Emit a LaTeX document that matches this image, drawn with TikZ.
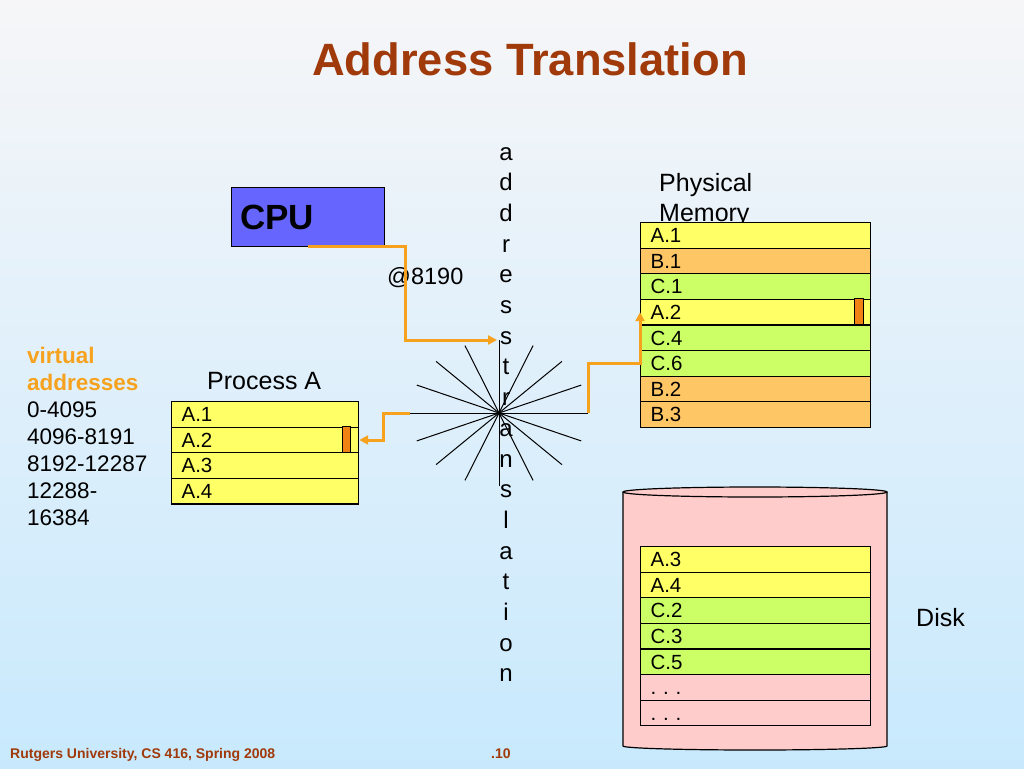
\documentclass[tikz,border=0pt]{standalone}
\usepackage{fontspec}
\setmainfont{Liberation Sans}
\usepackage{xcolor}
\usepackage{tikz}
\usetikzlibrary{arrows.meta}

\definecolor{titlebrown}{RGB}{160,58,10}
\definecolor{cpublue}{RGB}{102,102,255}
\definecolor{wireorange}{RGB}{247,162,30}
\definecolor{pageylw}{RGB}{255,255,102}
\definecolor{pagepeach}{RGB}{255,198,102}
\definecolor{pagegreen}{RGB}{204,255,102}
\definecolor{markorange}{RGB}{240,130,20}
\definecolor{diskpink}{RGB}{255,204,204}
\definecolor{bgtop}{RGB}{246,246,248}
\definecolor{bgbottom}{RGB}{200,233,253}

\begin{document}
\begin{tikzpicture}[x=1pt,y=-1pt]
    \tikzstyle{lbl} = [inner sep=0pt, anchor=base west, font=\fontsize{25}{29}\selectfont]
    \tikzstyle{small} = [lbl, font=\fontsize{22.5}{26}\selectfont]
    \tikzstyle{cell} = [rectangle, draw, line width=1.2pt, anchor=north west, minimum width=230pt, minimum height=25.6pt, text width=210pt, inner xsep=10pt, inner ysep=0pt, text height=14.6pt, text depth=0pt, align=left, font=\fontsize{20.5}{24}\selectfont]
    \tikzstyle{pcell} = [cell, minimum width=187pt, text width=167pt]
    \tikzstyle{wire} = [wireorange, line width=3pt, -{Triangle[length=9pt,width=9pt]}]
    \tikzstyle{marker} = [draw, line width=0.8pt, fill=markorange]
    \useasboundingbox (0,0) rectangle (1024,768);
    \shade[top color=bgtop, bottom color=bgbottom] (0,0) rectangle (1024,768);

    % title and footer
    \node [lbl, font=\fontsize{45.3}{50}\selectfont\bfseries, text=titlebrown] (title) at (312,75) {Address Translation};
    \node [lbl, font=\fontsize{14}{16}\selectfont\bfseries, text=titlebrown] (foot) at (10,758) {Rutgers University, CS 416, Spring 2008};
    \node [lbl, font=\fontsize{14}{16}\selectfont\bfseries, text=titlebrown] (pgno) at (491,758) {.10};

    % cpu
    \node [rectangle, draw, line width=1.2pt, fill=cpublue, anchor=north west, minimum width=153pt, minimum height=59pt] (cpu) at (231,187) {};
    \node [lbl, font=\fontsize{35}{40}\selectfont\bfseries] (cputxt) at (240,229) {CPU};
    \node [lbl, font=\fontsize{23.5}{27}\selectfont] (addr) at (387,284) {@8190};

    % the translation star
    \coordinate (star) at (499,413);
    \begin{scope}[shift={(499,413)}]
        \foreach \a in {0,22.5,...,157.5}
            \draw [line width=1pt] (\a:89 and 73) -- (\a+180:89 and 73);
    \end{scope}
    \coordinate (starW) at (410,413);
    \coordinate (starE) at (588,413);
    \foreach \ch [count=\i] in {a,d,d,r,e,s,s,t,r,a,n,s,l,a,t,i,o,n}
        \node [lbl, anchor=base, font=\fontsize{24}{28}\selectfont] (v\i) at (506,{160+30.7*(\i-1)}) {\ch};

    % virtual side
    \node [small, font=\fontsize{22.5}{26}\selectfont\bfseries, text=wireorange] (va1) at (27,363) {virtual};
    \node [small, font=\fontsize{22.5}{26}\selectfont\bfseries, text=wireorange] (va2) at (27,390) {addresses};
    \foreach \r [count=\i] in {0-4095,4096-8191,8192-12287,12288-,16384}
        \node [small] (rng\i) at (27,{417+27*(\i-1)}) {\r};
    \node [lbl] (proc) at (207,389) {Process A};
    \foreach \lbl [count=\i] in {A.1,A.2,A.3,A.4}
        \node [pcell, fill=pageylw] (pa\i) at (171,{401+25.6*(\i-1)}) {\lbl};
    \draw [marker] (pa2.north east) ++(-16.5,0) rectangle ++(7.6,25.6);

    % physical memory
    \node [lbl] (phys) at (659,191) {Physical};
    \node [lbl] (mem) at (659,221) {Memory};
    \foreach \lbl/\col [count=\i] in {A.1/pageylw,B.1/pagepeach,C.1/pagegreen,A.2/pageylw,C.4/pagegreen,C.6/pagegreen,B.2/pagepeach,B.3/pagepeach}
        \node [cell, fill=\col] (pm\i) at (640,{222+25.6*(\i-1)}) {\lbl};
    \draw [marker] (pm4.north east) ++(-17,0) rectangle ++(9,25.6);

    % disk
    \draw [line width=1.2pt, fill=diskpink] (623,492) -- (623,746) arc [start angle=180, end angle=0, x radius=132, y radius=4] -- (887,492);
    \draw [line width=1.2pt, fill=diskpink] (755,492) ellipse [x radius=132, y radius=5];
    \foreach \lbl/\col [count=\i] in {A.3/pageylw,A.4/pageylw,C.2/pagegreen,C.3/pagegreen,C.5/pagegreen,{.\ .\ .}/diskpink,{.\ .\ .}/diskpink}
        \node [cell, fill=\col] (dk\i) at (640,{546+25.6*(\i-1)}) {\lbl};
    \node [lbl] (disk) at (916,626) {Disk};

    % connectors
    \coordinate (cpuout) at (308,246);
    \coordinate (tipA) at (497,340);
    \draw [wire] (cpuout) -- ++(97,0) |- (tipA);
    \draw [wire] (starW) -- ++(-27,0) |- (pa2.east);
    \draw [wire] (starE) -- ++(0,-50) -| (pm4.west);
\end{tikzpicture}
\end{document}
